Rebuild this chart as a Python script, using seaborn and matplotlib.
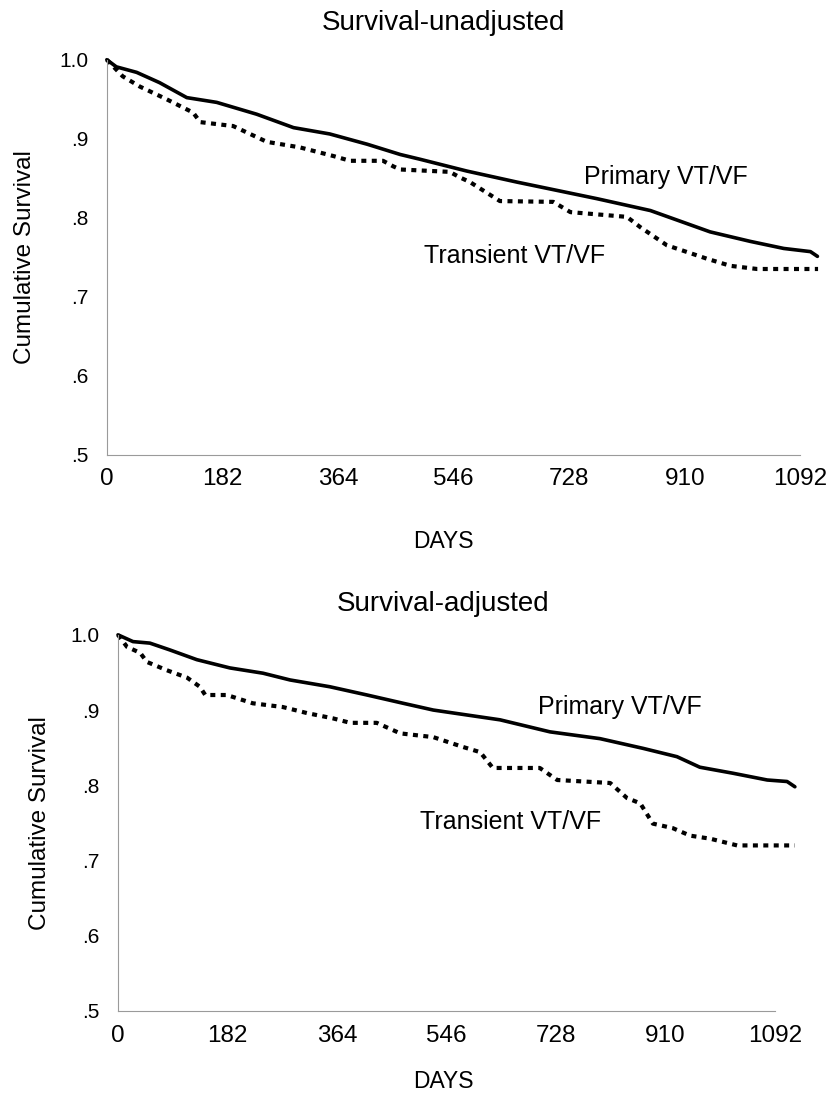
import matplotlib
matplotlib.use("Agg")
import matplotlib.pyplot as plt
import seaborn as sns
import pandas as pd

# ---------------- data ----------------
x_ticks = [0, 182, 364, 546, 728, 910, 1092]
x_tick_labels = ["0", "182", "364", "546", "728", "910", "1092"]
y_ticks = [0.5, 0.6, 0.7, 0.8, 0.9, 1.0]
y_tick_labels = [".5", ".6", ".7", ".8", ".9", "1.0"]

# Survival-unadjusted
unadj_primary_days = [0, 15, 47, 83, 126, 173, 236, 294, 351, 410, 462, 493, 567, 646,
                      772, 856, 950, 1013, 1066, 1108, 1119]
unadj_primary_surv = [1.0, 0.991, 0.984, 0.971, 0.952, 0.946, 0.931, 0.914, 0.906, 0.893,
                      0.880, 0.874, 0.859, 0.845, 0.824, 0.809, 0.782, 0.770, 0.761, 0.757, 0.751]
unadj_transient_days = [0, 25, 52, 94, 136, 147, 199, 252, 304, 357, 383, 435, 451, 462,
                        540, 556, 572, 619, 703, 730, 819, 840, 882, 908, 945, 982, 1024, 1120]
unadj_transient_surv = [1.0, 0.979, 0.966, 0.950, 0.933, 0.921, 0.916, 0.896, 0.889, 0.878,
                        0.872, 0.872, 0.865, 0.861, 0.858, 0.851, 0.845, 0.821, 0.820, 0.807,
                        0.801, 0.788, 0.765, 0.758, 0.748, 0.739, 0.735, 0.735]

# Survival-adjusted
adj_primary_days = [0, 25, 53, 86, 131, 186, 241, 286, 352, 414, 474, 524, 635, 718, 801,
                    873, 929, 967, 1022, 1079, 1112, 1125]
adj_primary_surv = [1.0, 0.991, 0.989, 0.980, 0.967, 0.956, 0.949, 0.940, 0.931, 0.920,
                    0.909, 0.900, 0.887, 0.871, 0.862, 0.849, 0.838, 0.824, 0.816, 0.807,
                    0.805, 0.798]
adj_transient_days = [0, 15, 37, 48, 81, 115, 136, 145, 181, 224, 274, 314, 357, 386, 430,
                      469, 524, 573, 602, 623, 701, 730, 818, 846, 868, 889, 922, 951, 984,
                      1029, 1125]
adj_transient_surv = [1.0, 0.984, 0.976, 0.964, 0.953, 0.943, 0.931, 0.920, 0.920, 0.909,
                      0.904, 0.896, 0.889, 0.883, 0.883, 0.869, 0.864, 0.851, 0.844, 0.823,
                      0.823, 0.807, 0.803, 0.783, 0.776, 0.749, 0.743, 0.733, 0.729, 0.720,
                      0.720]

titles = ["Survival-unadjusted", "Survival-adjusted"]
series_labels = ["Primary VT/VF", "Transient VT/VF"]

# ---------------- style ----------------
sns.set_theme(style="white")
plt.rcParams["font.family"] = ["Liberation Sans", "DejaVu Sans"]
plt.rcParams["text.color"] = "black"
plt.rcParams["axes.labelcolor"] = "black"
plt.rcParams["xtick.color"] = "black"
plt.rcParams["ytick.color"] = "black"

fig = plt.figure(figsize=(8.28, 11.06), dpi=100)

panels = [
    dict(rect=[0.129, 0.589, 0.859, 0.357], xmax=1120,
         prim=(unadj_primary_days, unadj_primary_surv),
         tran=(unadj_transient_days, unadj_transient_surv),
         title=titles[0], title_y=0.979, days_y=0.510, ylab_x=0.030,
         prim_txt=(751, 0.851), tran_txt=(499, 0.752)),
    dict(rect=[0.1425, 0.086, 0.8175, 0.340], xmax=1125,
         prim=(adj_primary_days, adj_primary_surv),
         tran=(adj_transient_days, adj_transient_surv),
         title=titles[1], title_y=0.454, days_y=0.022, ylab_x=0.048,
         prim_txt=(698, 0.904), tran_txt=(502, 0.751)),
]

for p in panels:
    ax = fig.add_axes(p["rect"])
    dfp = pd.DataFrame({"day": p["prim"][0], "surv": p["prim"][1]})
    dft = pd.DataFrame({"day": p["tran"][0], "surv": p["tran"][1]})
    sns.lineplot(data=dfp, x="day", y="surv", ax=ax, color="black", linewidth=2.6,
                 estimator=None, sort=False, clip_on=False)
    sns.lineplot(data=dft, x="day", y="surv", ax=ax, color="black", linewidth=3.0,
                 estimator=None, sort=False, clip_on=False,
                 linestyle=(0, (1.2, 1.3)))
    ax.set_xlim(0, p["xmax"])
    ax.set_ylim(0.5, 1.0)
    ax.set_xticks(x_ticks)
    ax.set_xticklabels(x_tick_labels, fontsize=17.5)
    ax.set_yticks(y_ticks)
    ax.set_yticklabels(y_tick_labels, fontsize=15)
    ax.set_xlabel("")
    ax.set_ylabel("")
    for s in ["top", "right"]:
        ax.spines[s].set_visible(False)
    for s in ["left", "bottom"]:
        ax.spines[s].set_color("#9a9a9a")
        ax.spines[s].set_linewidth(0.8)
    ax.spines["bottom"].set_bounds(0, 1092)
    ax.tick_params(axis="x", direction="out", length=2, width=1.5, color="#555555",
                   pad=8, labelcolor="black")
    ax.tick_params(axis="y", direction="out", length=2, width=2.5, color="black",
                   pad=11, labelcolor="black")
    ax.grid(False)
    ax.text(p["prim_txt"][0], p["prim_txt"][1], series_labels[0], fontsize=18,
            va="center", ha="left", color="black")
    ax.text(p["tran_txt"][0], p["tran_txt"][1], series_labels[1], fontsize=18,
            va="center", ha="left", color="black")
    fig.text(0.535, p["title_y"], p["title"], fontsize=20, ha="center", va="center",
             color="black")
    fig.text(0.535, p["days_y"], "DAYS", fontsize=16.5, ha="center", va="center",
             color="black")
    ax_mid = p["rect"][1] + p["rect"][3] / 2
    fig.text(p["ylab_x"], ax_mid, "Cumulative Survival", fontsize=17.5, rotation=90,
             ha="center", va="center", color="black")

fig.savefig("out.png", dpi=100, facecolor="white")
